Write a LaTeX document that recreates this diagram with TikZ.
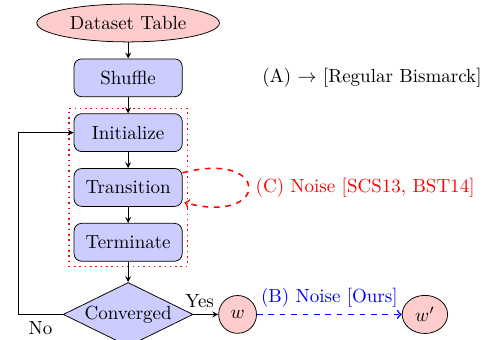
\documentclass[tikz,border=0pt]{standalone}
\usetikzlibrary{positioning,shapes.geometric,fit,arrows}

\tikzset{
  paso/.style={draw,rectangle,rounded corners,fill=blue!20,minimum width=2cm,minimum height=0.7cm},
  dato/.style={draw,ellipse,fill=red!20,minimum height=0.7cm},
  decision/.style={draw,diamond,fill=blue!20,aspect=2,inner sep=0pt,minimum width=2.4cm,minimum height=1.18cm},
  flecha/.style={-stealth}
}

\begin{document}
\begin{tikzpicture}
  \useasboundingbox (-2.37,0.425) rectangle (6.60,-5.845);

  % Nodos principales
  \node[dato] (tabla) at (0,0) {Dataset Table};
  \node[paso,below=0.3cm of tabla] (shuffle) {Shuffle};
  \node[paso,below=0.3cm of shuffle] (init) {Initialize};
  \node[paso,below=0.3cm of init] (trans) {Transition};
  \node[paso,below=0.3cm of trans] (term) {Terminate};
  \node[decision,below=0.38cm of term] (conv) {Converged};
  \node[dato,right=0.46cm of conv] (w) {$w$};
  \node[dato,right=2.68cm of w] (wp) {$w'$};
  \node[right=1.35cm of shuffle] (regular) {(A) $\rightarrow$ [Regular Bismarck]};

  % Caja punteada
  \node[draw,red,dotted,thick,inner sep=2.6pt,fit=(init) (term)] (bloque) {};

  % Flechas
  \draw[flecha] (tabla) -- (shuffle);
  \draw[flecha] (shuffle) -- (init);
  \draw[flecha] (init) -- (trans);
  \draw[flecha] (trans) -- (term);
  \draw[flecha] (term) -- (conv);
  \draw[flecha] (conv) -- node[above,pos=0.25] {Yes} (w);
  \draw[flecha] (conv.west) -- node[below] {No} ++(-0.83,0) |- (init.west);

  % Ruido
  \draw[->,red,dashed,thick] (trans) edge[loop right] node[right] {(C) Noise [SCS13, BST14]} ();
  \draw[->,blue,dashed,thick] (w) -- node[above] {(B) Noise [Ours]} (wp);
\end{tikzpicture}
\end{document}
